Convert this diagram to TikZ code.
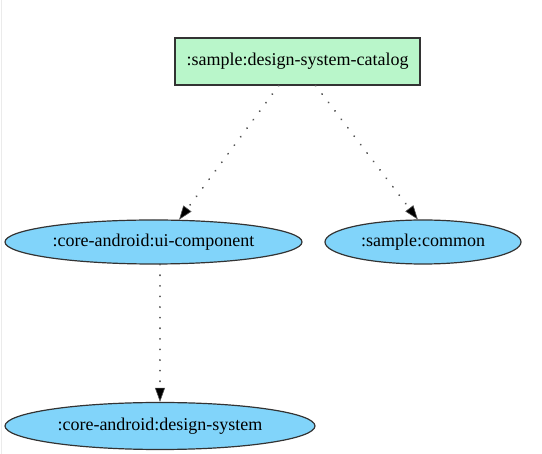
\documentclass[tikz,border=0pt]{standalone}
\usepackage{fontspec}
\setmainfont{Liberation Serif}
\usetikzlibrary{arrows.meta, shapes.geometric}
\definecolor{cgreen}{HTML}{B9F6CA}
\definecolor{cblue}{HTML}{81D4FA}
\definecolor{cline}{HTML}{333333}
\definecolor{cdot}{HTML}{555555}
\tikzset{
  every picture/.style={font=\fontsize{18}{21}\selectfont, line width=1.2pt},
  module/.style={draw=cline, fill=cblue, ellipse, inner sep=0pt, minimum height=44pt},
  app/.style={draw=cline, fill=cgreen, rectangle, inner sep=0pt, minimum width=245pt, minimum height=47pt},
  dep/.style={cdot, line width=2pt, line cap=round, dash pattern=on 0.1pt off 10.5pt,
    -{Triangle[length=14pt, width=10pt, fill=black, line width=0.6pt, line cap=butt]}},
}

\begin{document}
\begin{tikzpicture}[x=1pt, y=-1pt]
  \useasboundingbox (0,0) rectangle (542,454);
  \draw[black!8, line width=1pt] (1,0) -- (1,454);
  % modules
  \node[app] (cat) at (297.5,61.5) {:sample:design-system-catalog};
  \node[module, minimum width=297pt] (ui) at (153.5,242) {:core-android:ui-component};
  \node[module, minimum width=196pt] (common) at (423,242) {:sample:common};
  \node[module, minimum width=310pt, minimum height=47pt] (ds) at (160,426) {:core-android:design-system};
  % dependencies
  \draw[dep] (cat.232.5) -- (ui.41);
  \draw[dep] (cat.307.5) -- (common.103);
  \draw[dep] (ds.north |- ui.south) -- (ds.north);
\end{tikzpicture}
\end{document}
